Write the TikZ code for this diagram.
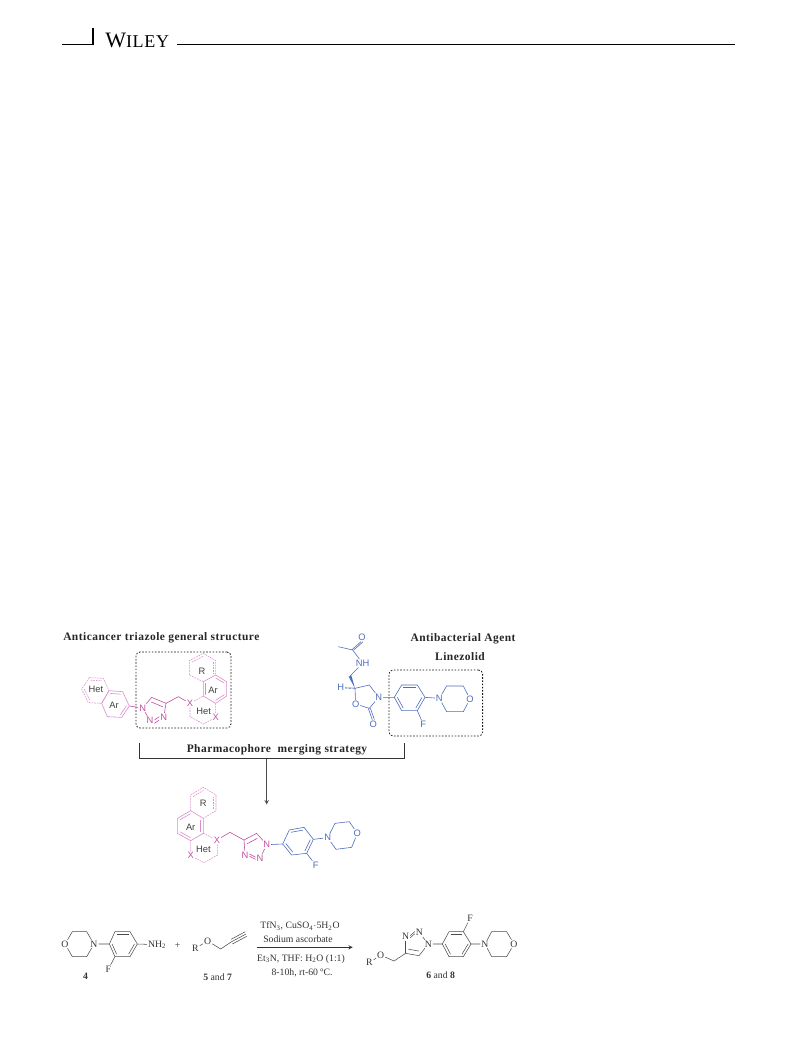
\documentclass[tikz,border=0pt]{standalone}
\usepackage{fontspec}
\setmainfont{Liberation Serif}
\newfontfamily\atomfont{Liberation Sans}
\newfontfamily\capfont[LetterSpace=4]{Liberation Serif}
\newfontfamily\headfont[LetterSpace=4]{Liberation Serif}
\usetikzlibrary{calc}
\definecolor{pinkbond}{HTML}{DB8CCA}
\definecolor{pinkatom}{HTML}{C0509F}
\definecolor{bluebond}{HTML}{4F6DBE}
\tikzset{
    crop/.style 2 args={shift={(#1,#2)},x=.25pt,y=-.25pt},
    atm/.style={font=\atomfont\fontsize{7}{8}\selectfont,inner sep=.6pt},
    ringtxt/.style={font=\atomfont\fontsize{7}{8}\selectfont,text=black!75,inner sep=0pt},
    rm/.style={font=\fontsize{7.3}{8}\selectfont,inner sep=.6pt,text=black!80},
    captxt/.style={font=\capfont\bfseries\fontsize{8.6}{10}\selectfont,text=black!85,inner sep=0pt},
    pinkb/.style={draw=pinkatom,line width=.45pt},
    pinkl/.style={draw=pinkbond,line width=.45pt},
    pinkd/.style={draw=pinkbond,line width=.4pt,dash pattern=on 1.3pt off .7pt},
    blueb/.style={draw=bluebond,line width=.45pt},
    greyb/.style={draw=black!70,line width=.4pt},
    dotbox/.style={draw=black!90,line width=.6pt,dash pattern=on 1.2pt off 1.2pt,rounded corners=3pt,inner sep=0pt}
}
% inner line of a double bond, pulled towards the ring centre
\newcommand{\inbond}[4][]{\draw[#1] ($(#2)!.2!(#4)$) -- ($(#3)!.2!(#4)$);}
\begin{document}
\begin{tikzpicture}[x=.75pt,y=-.75pt]
    \useasboundingbox (0,0) rectangle (793,1043);

    % running head
    \coordinate (hl) at (62,44.5);
    \coordinate (hm) at (93,44.5);
    \coordinate (ht) at (93,28);
    \coordinate (hs) at (177,44.5);
    \coordinate (he) at (735,44.5);
    \draw[line width=.8pt] (hl) -- (hm) -- (ht);
    \draw[line width=.8pt] (hs) -- (he);
    \node[anchor=base west,inner sep=0pt,font=\headfont\fontsize{16.5}{17}\selectfont] (wiley) at (105,47) {W\fontsize{13.5}{14}\selectfont ILEY};

    % captions
    \node[captxt,anchor=west] (capA) at (63,638) {Anticancer triazole general structure};
    \node[captxt] (capB) at (463,639) {Antibacterial Agent};
    \node[captxt] (capC) at (460,657) {Linezolid};

    % dashed boxes
    \node[dotbox,minimum width=71.2pt,minimum height=57pt] (boxL) at (183.5,690) {};
    \node[dotbox,minimum width=70.2pt,minimum height=49.5pt] (boxR) at (435.8,703) {};

    % anticancer structure
    \begin{scope}[crop={50}{620}]
        \draw[pinkd] (118,173) coordinate (a1) -- (160,175) coordinate (a2) -- (177,212) coordinate (a3) -- (155,250) coordinate (a4) -- (115,248) coordinate (a5) -- (95,207) coordinate (a6) -- cycle;
        \coordinate (ahc) at (136,211);
        \inbond[pinkd]{a1}{a2}{ahc}
        \inbond[pinkd]{a5}{a6}{ahc}
        \draw[pinkl] (a3) -- (218,215) coordinate (b1) -- (238,258) coordinate (b2) -- (215,292) coordinate (b3) -- (172,290) coordinate (b4) -- (a4) -- cycle;
        \coordinate (abc) at (196,253);
        \inbond[pinkl]{a3}{b1}{abc}
        \inbond[pinkl]{b2}{b3}{abc}
        \node[ringtxt] (het1) at (138,208) {Het};
        \node[ringtxt] (ar1) at (192,257) {Ar};
        \node[atm,text=pinkatom] (n1) at (278,264) {N};
        \node[atm,text=pinkatom] (n2) at (300,302) {N};
        \node[atm,text=pinkatom] (n3) at (341,292) {N};
        \coordinate (c4) at (348,250);
        \coordinate (c5) at (305,232);
        \draw[pinkb] (b2) -- (n1) -- (n2);
        \draw[pinkb] (n3) -- (c4) -- (c5) -- (n1);
        \draw[pinkb] ([yshift=-2pt]n2.east) -- ([yshift=-2pt]n3.west);
        \draw[pinkb] ([yshift=.5pt]n2.east) -- ([yshift=.5pt]n3.west);
        \inbond[pinkb]{c4}{c5}{n2}
        \coordinate (cm) at (385,230);
        \node[atm,text=pinkatom] (x1) at (420,250) {X};
        \node[atm,text=pinkatom] (x2) at (497,292) {X};
        \draw[pinkb] (c4) -- (cm) -- (x1);
        \coordinate (d1) at (460,228);
        \coordinate (d2) at (497,250);
        \coordinate (d3) at (460,185);
        \coordinate (d4) at (497,165);
        \coordinate (d5) at (530,185);
        \coordinate (d6) at (530,228);
        \draw[pinkl] (d1) -- (d3) -- (d4) -- (d5) -- (d6) -- (d2) -- cycle;
        \coordinate (adc) at (495,207);
        \inbond[pinkl]{d4}{d5}{adc}
        \inbond[pinkl]{d6}{d2}{adc}
        \inbond[pinkl]{d1}{d3}{adc}
        \draw[pinkd] (x1) -- (d1) (d2) -- (x2) -- (460,312) -- (420,290) -- (x1);
        \draw[pinkd] (d3) -- (418,165) coordinate (e1) -- (418,122) coordinate (e2) -- (460,100) coordinate (e3) -- (497,122) coordinate (e4) -- (d4);
        \coordinate (aec) at (458,143);
        \inbond[pinkd]{e2}{e3}{aec}
        \inbond[pinkd]{e4}{d4}{aec}
        \node[ringtxt] (r1) at (456,155) {R};
        \node[ringtxt] (ar2) at (489,212) {Ar};
        \node[ringtxt] (het2) at (461,274) {Het};
    \end{scope}

    % linezolid
    \begin{scope}[crop={300}{620}]
        \node[atm,text=bluebond] (lo1) at (186,52) {O};
        \coordinate (lc1) at (158,90);
        \coordinate (lme) at (115,80);
        \node[atm,text=bluebond] (lnh) at (188,130) {NH};
        \coordinate (lch) at (150,168);
        \coordinate (lc5) at (165,205);
        \node[atm,text=bluebond] (lh) at (122,203) {H};
        \node[atm,text=bluebond] (lo2) at (167,252) {O};
        \coordinate (lc2) at (208,265);
        \node[atm,text=bluebond] (lo3) at (220,312) {O};
        \node[atm,text=bluebond] (ln1) at (236,232) {N};
        \coordinate (lc4) at (208,195);
        \draw[blueb] (lme) -- (lc1) -- (lnh);
        \draw[blueb] ([xshift=-.8pt]lc1) -- ([xshift=-.8pt]lo1.south);
        \draw[blueb] ([xshift=.8pt]lc1) -- ([xshift=.8pt]lo1.south);
        \draw[blueb] (lnh) -- (lch);
        \fill[bluebond] (146,170) -- (154,166) -- (lc5) -- cycle;
        \draw[bluebond,line width=1.1pt,dash pattern=on .4pt off .6pt] (lc5) -- (lh);
        \draw[blueb] (lc5) -- (lo2) -- (lc2) -- (ln1) -- (lc4) -- (lc5);
        \draw[blueb] ([xshift=-.8pt]lc2) -- ([xshift=-.8pt]lo3.north);
        \draw[blueb] ([xshift=.8pt]lc2) -- ([xshift=.8pt]lo3.north);
        \draw[blueb] (ln1) -- (283,232) coordinate (p1) -- (305,195) coordinate (p2) -- (352,195) coordinate (p3) -- (375,232) coordinate (p4) -- (352,272) coordinate (p5) -- (305,272) coordinate (p6) -- (p1);
        \coordinate (lpc) at (329,233);
        \inbond[blueb]{p2}{p3}{lpc}
        \inbond[blueb]{p4}{p5}{lpc}
        \inbond[blueb]{p6}{p1}{lpc}
        \node[atm,text=bluebond] (lf) at (370,313) {F};
        \node[atm,text=bluebond] (ln2) at (418,235) {N};
        \node[atm,text=bluebond] (lo4) at (510,237) {O};
        \draw[blueb] (p5) -- (lf);
        \draw[blueb] (p4) -- (ln2) -- (440,198) -- (490,198) -- (lo4) -- (490,275) -- (440,275) -- (ln2);
    \end{scope}

    % bracket and arrow
    \coordinate (brA) at (139.3,742.5);
    \coordinate (brB) at (139.3,758.5);
    \coordinate (brC) at (404,758.5);
    \coordinate (brD) at (404,742.5);
    \coordinate (arS) at (266.7,758.5);
    \coordinate (arE) at (266.7,804.5);
    \draw[line width=.6pt,draw=black!80] (brA) -- (brB) -- (brC) -- (brD);
    \draw[line width=.5pt,draw=black!70,-stealth] (arS) -- (arE);
    \node[captxt] (capD) at (277,750) {Pharmacophore\ \ merging strategy};

    % merged structure
    \begin{scope}[crop={150}{770}]
        \coordinate (f1) at (122,122);
        \coordinate (f2) at (160,145);
        \coordinate (f3) at (160,190);
        \coordinate (f4) at (122,212);
        \coordinate (f5) at (82,190);
        \coordinate (f6) at (82,145);
        \draw[pinkl] (f1) -- (f2) -- (f3) -- (f4) -- (f5) -- (f6) -- cycle;
        \coordinate (mfc) at (121,167);
        \inbond[pinkl]{f1}{f6}{mfc}
        \inbond[pinkl]{f2}{f3}{mfc}
        \inbond[pinkl]{f4}{f5}{mfc}
        \draw[pinkd] (f1) -- (122,75) coordinate (g1) -- (160,52) coordinate (g2) -- (198,75) coordinate (g3) -- (198,122) coordinate (g4) -- (f2);
        \coordinate (mgc) at (160,98);
        \inbond[pinkd]{g1}{g2}{mgc}
        \inbond[pinkd]{g3}{g4}{mgc}
        \node[atm,text=pinkatom] (mx1) at (201,210) {X};
        \node[atm,text=pinkatom] (mx2) at (122,257) {X};
        \draw[pinkd] (f3) -- (mx1) -- (203,255) -- (162,278) -- (mx2) -- (f4);
        \node[ringtxt] (mr) at (160,100) {R};
        \node[ringtxt] (mar) at (122,172) {Ar};
        \node[ringtxt] (mhet) at (160,237) {Het};
        \coordinate (mch) at (240,187);
        \coordinate (mc4) at (282,210);
        \coordinate (mc5) at (320,190);
        \node[atm,text=pinkatom] (mn1) at (350,224) {N};
        \node[atm,text=pinkatom] (mn2) at (330,265) {N};
        \node[atm,text=pinkatom] (mn3) at (285,255) {N};
        \draw[pinkb] (mx1) -- (mch) -- (mc4) -- (mc5) -- (mn1) -- (mn2);
        \draw[pinkb] (mn3) -- (mc4);
        \draw[pinkb] ([yshift=-.8pt]mn3.east) -- ([yshift=-.8pt]mn2.west);
        \draw[pinkb] ([yshift=.8pt]mn3.east) -- ([yshift=.8pt]mn2.west);
        \inbond[pinkb]{mc4}{mc5}{mn2}
        \draw[blueb] (mn1) -- (398,222) coordinate (q1) -- (418,180) coordinate (q2) -- (462,172) coordinate (q3) -- (490,208) coordinate (q4) -- (470,250) coordinate (q5) -- (425,255) coordinate (q6) -- (q1);
        \coordinate (mqc) at (444,214);
        \inbond[blueb]{q2}{q3}{mqc}
        \inbond[blueb]{q4}{q5}{mqc}
        \inbond[blueb]{q6}{q1}{mqc}
        \node[atm,text=bluebond] (mf) at (497,285) {F};
        \node[atm,text=bluebond] (mn4) at (533,203) {N};
        \node[atm,text=bluebond] (mo) at (622,190) {O};
        \draw[blueb] (q5) -- (mf);
        \draw[blueb] (q4) -- (mn4) -- (555,160) -- (598,155) -- (mo) -- (605,232) -- (558,238) -- (mn4);
    \end{scope}

    % reactant 4
    \begin{scope}[crop={50}{900}]
        \node[rm] (so) at (45,132) {O};
        \node[rm] (sn) at (132,132) {N};
        \draw[greyb] (so) -- (67,95) -- (110,95) -- (sn) -- (110,170) -- (67,170) -- (so);
        \draw[greyb] (sn) -- (178,132) coordinate (s1) -- (195,95) coordinate (s2) -- (240,95) coordinate (s3) -- (262,132) coordinate (s4) -- (240,170) coordinate (s5) -- (195,170) coordinate (s6) -- (s1);
        \coordinate (ssc) at (219,132);
        \inbond[greyb]{s2}{s3}{ssc}
        \inbond[greyb]{s4}{s5}{ssc}
        \inbond[greyb]{s6}{s1}{ssc}
        \node[rm,anchor=west] (snh) at (291,134) {NH\textsubscript{2}};
        \node[rm] (sf) at (175,207) {F};
        \draw[greyb] (s4) -- (snh);
        \draw[greyb] (s6) -- (sf);
        \node[rm] (lab4) at (107,228) {\textbf{4}};
        \node[rm] (plus) at (383,138) {+};
        \node[rm] (tr) at (436,145) {R};
        \node[rm] (to) at (473,123) {O};
        \coordinate (tc) at (512,147);
        \coordinate (tt) at (545,125);
        \coordinate (te) at (588,102);
        \draw[greyb] (tr) -- (to) -- (tc) -- (tt) -- (te);
        \draw[greyb] ($(tt)+(-2,-7)$) -- ($(te)+(-2,-7)$);
        \draw[greyb] ($(tt)+(2,7)$) -- ($(te)+(2,7)$);
        \node[rm] (lab5) at (503,230) {\textbf{5} and \textbf{7}};
    \end{scope}

    % reaction arrow with conditions
    \coordinate (rxS) at (256.7,947.3);
    \coordinate (rxE) at (352.7,947.3);
    \draw[line width=.45pt,draw=black!80,-stealth] (rxS) -- (rxE);
    \node[rm] (cond1) at (300,926) {TfN\textsubscript{3}, CuSO\textsubscript{4}$\cdot$5H\textsubscript{2}O};
    \node[rm] (cond2) at (298,939) {Sodium ascorbate};
    \node[rm] (cond3) at (301,959) {Et\textsubscript{3}N, THF: H\textsubscript{2}O (1:1)};
    \node[rm] (cond4) at (302,972.7) {8-10h, rt-60 ºC.};

    % product
    \begin{scope}[crop={270}{900}]
        \node[rm] (ur) at (298,188) {R};
        \node[rm] (uo) at (332,165) {O};
        \coordinate (uch) at (372,183);
        \coordinate (uc4) at (407,160);
        \coordinate (uc5) at (447,167);
        \node[rm] (un1) at (475,132) {N};
        \node[rm] (un2) at (448,98) {N};
        \node[rm] (un3) at (407,110) {N};
        \draw[greyb] (ur) -- (uo) -- (uch) -- (uc4) -- (uc5) -- (un1) -- (un2);
        \draw[greyb] (uc4) -- (un3);
        \draw[greyb] ([yshift=-.8pt]un3.east) -- ([yshift=-.8pt]un2.west);
        \draw[greyb] ([yshift=.8pt]un3.east) -- ([yshift=.8pt]un2.west);
        \inbond[greyb]{uc4}{uc5}{un2}
        \draw[greyb] (un1) -- (517,132) coordinate (u1) -- (537,95) coordinate (u2) -- (580,95) coordinate (u3) -- (603,132) coordinate (u4) -- (580,170) coordinate (u5) -- (537,170) coordinate (u6) -- (u1);
        \coordinate (uuc) at (560,132);
        \inbond[greyb]{u2}{u3}{uuc}
        \inbond[greyb]{u4}{u5}{uuc}
        \inbond[greyb]{u6}{u1}{uuc}
        \node[rm] (uf) at (600,55) {F};
        \node[rm] (un4) at (645,132) {N};
        \node[rm] (uo2) at (732,132) {O};
        \draw[greyb] (u3) -- (uf);
        \draw[greyb] (u4) -- (un4) -- (665,95) -- (710,95) -- (uo2) -- (710,170) -- (665,170) -- (un4);
        \node[rm] (lab6) at (512,225) {\textbf{6} and \textbf{8}};
    \end{scope}
\end{tikzpicture}
\end{document}
